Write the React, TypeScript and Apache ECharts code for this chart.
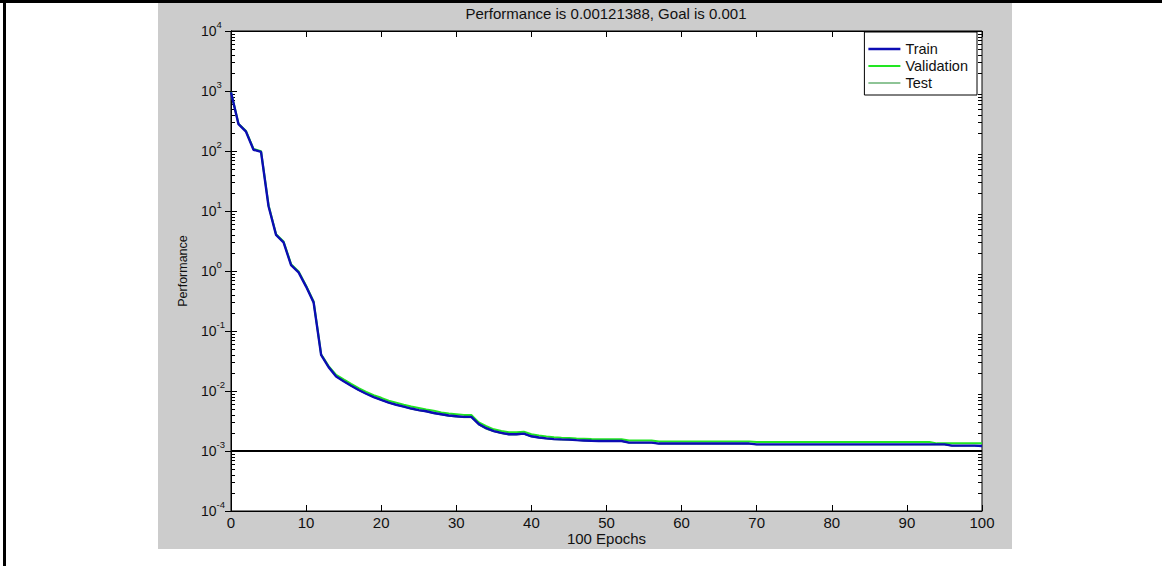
import React, { useEffect, useRef } from "react";
import * as echarts from "echarts";

// Training record (performance per epoch, 0..100)
const train: number[] = [
  950, 280, 210, 105, 97, 12, 4.0, 3.0, 1.25, 0.95,
  0.55, 0.30, 0.040, 0.025, 0.0175, 0.0145, 0.0122, 0.0104, 0.0090, 0.0079,
  0.0071, 0.0064, 0.0059, 0.0055, 0.0051, 0.0048, 0.0046, 0.0043, 0.0041, 0.0039,
  0.0038, 0.0037, 0.0037, 0.0028, 0.0024, 0.00215, 0.0020, 0.0019, 0.0019, 0.00195,
  0.00176, 0.00168, 0.00162, 0.00158, 0.00156, 0.00155, 0.00152, 0.00150, 0.00148, 0.00147,
  0.00147, 0.00147, 0.00147, 0.00138, 0.00138, 0.00138, 0.00138, 0.00133, 0.00133, 0.00133,
  0.00133, 0.00133, 0.00133, 0.00133, 0.00133, 0.00133, 0.00133, 0.00133, 0.00133, 0.00133,
  0.00129, 0.00129, 0.00129, 0.00129, 0.00129, 0.00129, 0.00129, 0.00129, 0.00129, 0.00129,
  0.00129, 0.00129, 0.00129, 0.00129, 0.00129, 0.00129, 0.00129, 0.00129, 0.00129, 0.00129,
  0.00129, 0.00129, 0.00129, 0.00129, 0.00129, 0.00129, 0.00123, 0.00123, 0.00123, 0.00123,
  0.00121,
];

const validation: number[] = [
  960, 285, 215, 108, 99, 12.5, 4.1, 3.1, 1.3, 0.98,
  0.57, 0.31, 0.041, 0.026, 0.0186, 0.0156, 0.0132, 0.0112, 0.0097, 0.0085,
  0.0077, 0.0069, 0.0064, 0.0059, 0.0055, 0.0052, 0.0049, 0.0047, 0.0044, 0.0042,
  0.0041, 0.0040, 0.0040, 0.0030, 0.0026, 0.0023, 0.00215, 0.00205, 0.00205, 0.0021,
  0.0019, 0.00182, 0.00175, 0.0017, 0.00167, 0.00165, 0.00162, 0.0016, 0.00158, 0.00157,
  0.00157, 0.00157, 0.00157, 0.0015, 0.0015, 0.0015, 0.0015, 0.00144, 0.00144, 0.00144,
  0.00144, 0.00144, 0.00144, 0.00144, 0.00144, 0.00144, 0.00144, 0.00144, 0.00144, 0.00144,
  0.00141, 0.00141, 0.00141, 0.00141, 0.00141, 0.00141, 0.00141, 0.00141, 0.00141, 0.00141,
  0.00141, 0.00141, 0.00141, 0.00141, 0.00141, 0.00141, 0.00141, 0.00141, 0.00141, 0.00141,
  0.00141, 0.00141, 0.00141, 0.00141, 0.00134, 0.00134, 0.00134, 0.00134, 0.00134, 0.00134,
  0.00134,
];

const test: number[] = [
  950, 278, 208, 104, 96, 11.8, 3.95, 2.95, 1.23, 0.94,
  0.54, 0.29, 0.039, 0.0245, 0.0172, 0.0143, 0.0120, 0.0102, 0.0089, 0.0078,
  0.0070, 0.0063, 0.0058, 0.0054, 0.0050, 0.0047, 0.0045, 0.0042, 0.0040, 0.0038,
  0.0037, 0.0036, 0.0036, 0.0027, 0.0023, 0.0021, 0.00195, 0.00186, 0.00186, 0.0019,
  0.00172, 0.00165, 0.00159, 0.00155, 0.00153, 0.00152, 0.0015, 0.00147, 0.00146, 0.00145,
  0.00145, 0.00145, 0.00145, 0.00136, 0.00136, 0.00136, 0.00136, 0.00131, 0.00131, 0.00131,
  0.00131, 0.00131, 0.00131, 0.00131, 0.00131, 0.00131, 0.00131, 0.00131, 0.00131, 0.00131,
  0.00127, 0.00127, 0.00127, 0.00127, 0.00127, 0.00127, 0.00127, 0.00127, 0.00127, 0.00127,
  0.00127, 0.00127, 0.00127, 0.00127, 0.00127, 0.00127, 0.00127, 0.00127, 0.00127, 0.00127,
  0.00127, 0.00127, 0.00127, 0.00127, 0.00127, 0.00127, 0.00121, 0.00121, 0.00121, 0.00121,
  0.0012,
];

const goal = 0.001;
const goalEpochs = [0, 100];
const titleText = "Performance is 0.00121388, Goal is 0.001";
const xName = "100 Epochs";
const yName = "Performance";
const decadeExponents = [-4, -3, -2, -1, 0, 1, 2, 3];
const minorMultipliers = [2, 3, 4, 5, 6, 7, 8, 9];

const FONT = "'Liberation Sans', Arial, Helvetica, sans-serif";
const TXT = "#111";
const TRAIN_C = "#0c0cb4";
const VAL_C = "#22e622";
const TEST_C = "#1f8a2f";

export default function App() {
  const ref = useRef<HTMLDivElement>(null);

  useEffect(() => {
    if (!ref.current) return;
    const chart = echarts.init(ref.current, undefined, { renderer: "svg" });

    const toPairs = (arr: number[]) => arr.map((v, i) => [i, v]);
    const minorTicks: number[][] = [];
    decadeExponents.forEach((e) =>
      minorMultipliers.forEach((m) => minorTicks.push([0, m * Math.pow(10, e)]))
    );

    const axisLineStyle = { show: true, lineStyle: { color: "#000", width: 1 } };
    const tickStyle = { show: true, inside: true, length: 6, lineStyle: { color: "#000", width: 1 } };

    const option: any = {
      animation: false,
      textStyle: { fontFamily: FONT },
      title: {
        text: titleText,
        left: 606,
        top: 6,
        padding: 0,
        textAlign: "center",
        textStyle: { fontSize: 15, fontWeight: "normal", color: TXT, fontFamily: FONT },
      },
      grid: {
        left: 231,
        top: 31,
        width: 751,
        height: 480,
        show: true,
        backgroundColor: "#fff",
        borderColor: "#000",
        borderWidth: 1,
      },
      legend: {
        data: [
          { name: "Train", icon: "path://M0 0H32V2.4H0Z", itemStyle: { color: TRAIN_C } },
          { name: "Validation", icon: "path://M0 0H32V2H0Z", itemStyle: { color: VAL_C } },
          { name: "Test", icon: "path://M0 0H32V1.2H0Z", itemStyle: { color: TEST_C } },
        ],
        orient: "vertical",
        right: 185,
        top: 32,
        backgroundColor: "#fff",
        borderColor: "#000",
        borderWidth: 1,
        borderRadius: 0,
        padding: [9, 9, 4, 4],
        itemGap: 1,
        itemWidth: 32,
        itemHeight: 3,
        textStyle: { fontSize: 14.5, lineHeight: 16, color: TXT, fontFamily: FONT },
      },
      xAxis: [
        {
          type: "value",
          min: 0,
          max: 100,
          interval: 10,
          position: "bottom",
          name: xName,
          nameLocation: "middle",
          nameGap: 20,
          nameMoveOverlap: false,
          nameTextStyle: { fontSize: 15, color: TXT, fontFamily: FONT },
          axisLine: axisLineStyle,
          axisTick: tickStyle,
          axisLabel: { fontSize: 15, color: TXT, margin: 4, fontFamily: FONT },
          splitLine: { show: false },
        },
        {
          type: "value",
          min: 0,
          max: 100,
          interval: 10,
          position: "top",
          axisLine: axisLineStyle,
          axisTick: tickStyle,
          axisLabel: { show: false },
          splitLine: { show: false },
        },
      ],
      yAxis: [
        {
          type: "log",
          logBase: 10,
          min: 1e-4,
          max: 1e4,
          position: "left",
          name: yName,
          nameLocation: "middle",
          nameGap: 42,
          nameMoveOverlap: false,
          nameTextStyle: { fontSize: 12.5, color: TXT, fontFamily: FONT },
          axisLine: axisLineStyle,
          axisTick: tickStyle,
          axisLabel: {
            align: "left",
            margin: 30,
            formatter: (v: number) => `{a|10}{b|${Math.round(Math.log10(v))}}`,
            rich: {
              a: { fontSize: 14, lineHeight: 24, color: TXT, fontFamily: FONT },
              b: { fontSize: 9.5, lineHeight: 10, verticalAlign: "top", color: TXT, fontFamily: FONT },
            },
          },
          splitLine: { show: false },
        },
        {
          type: "log",
          logBase: 10,
          min: 1e-4,
          max: 1e4,
          position: "right",
          axisLine: axisLineStyle,
          axisTick: tickStyle,
          axisLabel: { show: false },
          splitLine: { show: false },
        },
      ],
      series: [
        {
          name: "minorTicks",
          type: "custom",
          xAxisIndex: 0,
          yAxisIndex: 0,
          silent: true,
          data: minorTicks,
          encode: { x: 0, y: 1 },
          renderItem: (params: any, api: any) => {
            const pt = api.coord([0, api.value(1)]);
            const cs = params.coordSys;
            const y = Math.round(pt[1]) + 0.5;
            return {
              type: "group",
              children: [
                { type: "line", shape: { x1: cs.x, y1: y, x2: cs.x + 4, y2: y }, style: { stroke: "#000", lineWidth: 1 } },
                { type: "line", shape: { x1: cs.x + cs.width - 4, y1: y, x2: cs.x + cs.width, y2: y }, style: { stroke: "#000", lineWidth: 1 } },
              ],
            };
          },
        },
        {
          name: "Goal",
          type: "line",
          data: goalEpochs.map((e) => [e, goal]),
          showSymbol: false,
          symbol: "none",
          silent: true,
          lineStyle: { color: "#000", width: 2 },
          itemStyle: { color: "#000" },
          z: 2,
        },
        {
          name: "Test",
          type: "line",
          data: toPairs(test),
          showSymbol: false,
          symbol: "none",
          lineStyle: { color: TEST_C, width: 1 },
          itemStyle: { color: TEST_C },
          z: 3,
        },
        {
          name: "Validation",
          type: "line",
          data: toPairs(validation),
          showSymbol: false,
          symbol: "none",
          lineStyle: { color: VAL_C, width: 2 },
          itemStyle: { color: VAL_C },
          z: 4,
        },
        {
          name: "Train",
          type: "line",
          data: toPairs(train),
          showSymbol: false,
          symbol: "none",
          lineStyle: { color: TRAIN_C, width: 2.4 },
          itemStyle: { color: TRAIN_C },
          z: 5,
        },
      ],
    };

    chart.setOption(option);
    return () => chart.dispose();
  }, []);

  return (
    <div style={{ position: "fixed", left: 0, top: 0, width: 1162, height: 566, background: "#fff", overflow: "hidden" }}>
      <div style={{ position: "absolute", left: 0, top: 0, width: 1162, height: 3, background: "#000" }} />
      <div style={{ position: "absolute", left: 3, top: 0, width: 3, height: 566, background: "#000" }} />
      <div style={{ position: "absolute", left: 158, top: 3, width: 854, height: 546, background: "#cccccc" }} />
      <div ref={ref} style={{ position: "absolute", left: 0, top: 0, width: 1162, height: 566 }} />
    </div>
  );
}
